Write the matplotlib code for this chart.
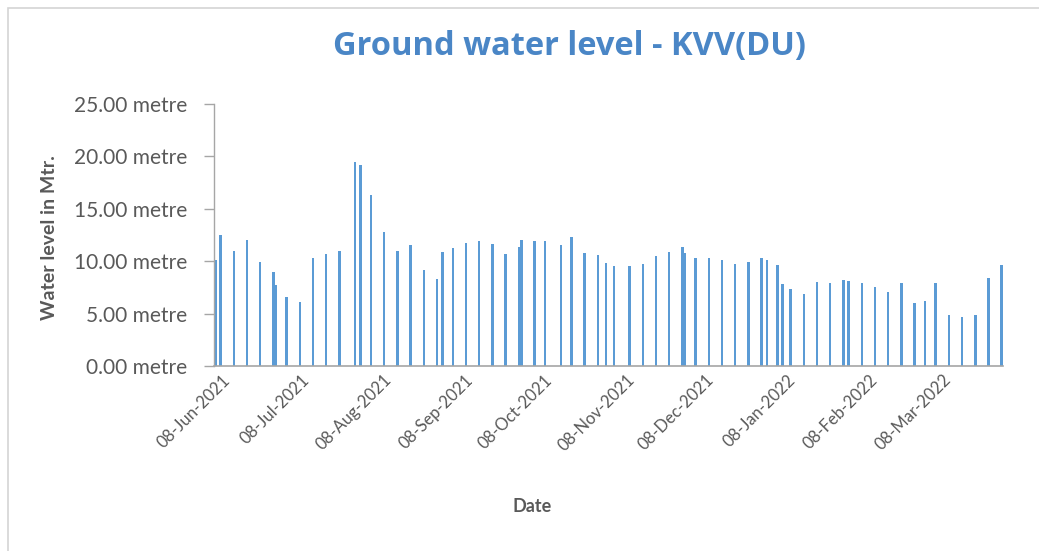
import matplotlib
matplotlib.use("Agg")
import matplotlib.pyplot as plt
import matplotlib.dates as mdates
import matplotlib.transforms as mtransforms
from matplotlib.patches import Rectangle
import pandas as pd

# ---- data ----
dates = [
    "2021-06-08", "2021-06-10", "2021-06-15", "2021-06-20", "2021-06-25", "2021-06-30",
    "2021-07-01", "2021-07-05", "2021-07-10", "2021-07-15", "2021-07-20", "2021-07-25",
    "2021-07-31", "2021-08-02", "2021-08-06", "2021-08-11", "2021-08-16", "2021-08-21",
    "2021-08-26", "2021-08-31", "2021-09-02", "2021-09-06", "2021-09-11", "2021-09-16",
    "2021-09-21", "2021-09-26", "2021-10-01", "2021-10-02", "2021-10-07", "2021-10-11",
    "2021-10-17", "2021-10-21", "2021-10-26", "2021-10-31", "2021-11-03", "2021-11-06",
    "2021-11-12", "2021-11-17", "2021-11-22", "2021-11-27", "2021-12-02", "2021-12-03",
    "2021-12-07", "2021-12-12", "2021-12-17", "2021-12-22", "2021-12-27", "2022-01-01",
    "2022-01-03", "2022-01-07", "2022-01-09", "2022-01-12", "2022-01-17", "2022-01-22",
    "2022-01-27", "2022-02-01", "2022-02-03", "2022-02-08", "2022-02-13", "2022-02-18",
    "2022-02-23", "2022-02-28", "2022-03-04", "2022-03-08", "2022-03-13", "2022-03-18",
    "2022-03-23", "2022-03-28", "2022-04-02",
]
water_level = [
    10.10, 12.53, 11.00, 12.06, 9.93, 8.98,
    7.69, 6.61, 6.11, 10.32, 10.73, 10.98,
    19.50, 19.18, 16.27, 12.78, 10.95, 11.55,
    9.14, 8.32, 10.85, 11.27, 11.74, 11.93,
    11.61, 10.66, 11.36, 12.06, 11.96, 11.90,
    11.58, 12.34, 10.82, 10.60, 9.85, 9.52,
    9.50, 9.69, 10.45, 10.90, 11.35, 10.76,
    10.35, 10.29, 10.10, 9.75, 9.94, 10.26,
    10.13, 9.62, 7.85, 7.38, 6.87, 8.01,
    7.91, 8.23, 8.14, 7.95, 7.50, 7.06,
    7.91, 5.98, 6.20, 7.95, 4.91, 4.65,
    4.91, 8.36, 9.59,
]
y_ticks = [0, 5, 10, 15, 20, 25]
x_tick_dates = ["2021-06-08", "2021-07-08", "2021-08-08", "2021-09-08", "2021-10-08",
                "2021-11-08", "2021-12-08", "2022-01-08", "2022-02-08", "2022-03-08"]
title = "Ground water level - KVV(DU)"
y_label = "Water level in Mtr."
x_label = "Date"

# ---- figure ----
plt.rcParams['font.family'] = ['Lato', 'DejaVu Sans']
W, H = 1039, 551
fig = plt.figure(figsize=(W / 100, H / 100), dpi=100)
fig.patch.set_facecolor("white")

# chart border (only left/top visible in the scan)
fig.add_artist(Rectangle((8 / W, -0.05), 1.1, 1 - 8 / H + 0.05, transform=fig.transFigure,
                         fill=False, edgecolor="#d4d4d4", linewidth=1.2))

ax = fig.add_axes([214 / W, 1 - 366 / H, (1003 - 214) / W, (366 - 104) / H])
x = pd.to_datetime(dates)
ax.bar(x, water_level, width=0.95, color="#5B9BD5", edgecolor="none", zorder=2)

x0 = pd.Timestamp(dates[0]) - pd.Timedelta(hours=12)
x1 = pd.Timestamp(dates[-1]) + pd.Timedelta(hours=12)
ax.set_xlim(x0, x1)
ax.set_ylim(0, 25)

ax.set_yticks(y_ticks)
ax.set_yticklabels([f"{v:.2f} metre" for v in y_ticks])
ax.tick_params(axis="y", length=7, width=1, color="#a6a6a6", pad=12,
               labelsize=15, labelcolor="#595959")

ax.set_xticks(pd.to_datetime(x_tick_dates))
ax.xaxis.set_major_formatter(mdates.DateFormatter("%d-%b-%Y"))
ax.tick_params(axis="x", length=0, pad=7, labelsize=12, labelcolor="#595959")
offset = mtransforms.ScaledTranslation(7 / 100, 4 / 100, fig.dpi_scale_trans)
for lab in ax.get_xticklabels():
    lab.set_rotation(45)
    lab.set_ha("right")
    lab.set_va("top")
    lab.set_rotation_mode("anchor")
    lab.set_transform(lab.get_transform() + offset)

for s in ["top", "right"]:
    ax.spines[s].set_visible(False)
ax.spines["left"].set_color("#a6a6a6")
ax.spines["bottom"].set_color("#a6a6a6")
ax.spines["left"].set_linewidth(1.0)
ax.spines["bottom"].set_linewidth(1.2)

fig.text(569 / W, 1 - 47 / H, title, ha="center", va="center",
         fontsize=23.5, fontweight="bold", color="#4A86C6",
         family=["Open Sans", "DejaVu Sans"])
fig.text(50 / W, 1 - 238 / H, y_label, ha="center", va="center", rotation=90,
         fontsize=14, fontweight="bold", color="#595959")
fig.text(532 / W, 1 - 506 / H, x_label, ha="center", va="center",
         fontsize=13, fontweight="bold", color="#595959")

fig.savefig("out.png", dpi=100, facecolor="white")
